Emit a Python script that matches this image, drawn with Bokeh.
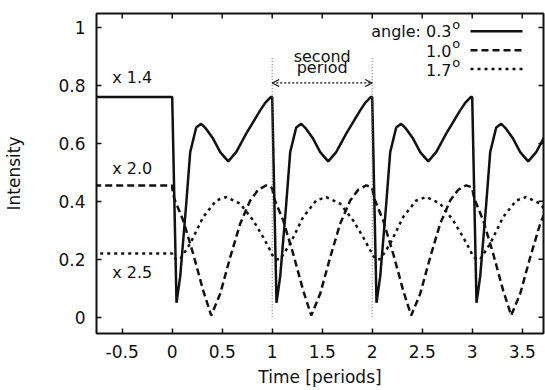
import numpy as np
from bokeh.plotting import figure
from bokeh.models import FixedTicker, Arrow, OpenHead
from bokeh.core.properties import value
from bokeh.embed import file_html
from bokeh.resources import INLINE

# ---------------- data ----------------
n_periods = 4
pre_x = [-1.0, 0.0]                 # before the periodic regime
pre_solid, pre_dashed, pre_dotted = 0.76, 0.455, 0.22

# one period (phase 0..1), repeated for each period
solid_phase = [0.00, 0.043, 0.08, 0.14, 0.18, 0.24, 0.29, 0.34, 0.41, 0.48, 0.56, 0.64, 0.74, 0.82, 0.88, 0.93, 0.985]
solid_val   = [0.76, 0.05, 0.14, 0.39, 0.57, 0.655, 0.668, 0.65, 0.616, 0.57, 0.538, 0.57, 0.634, 0.68, 0.714, 0.74, 0.76]

dashed_phase = [0.00, 0.02, 0.11, 0.21, 0.31, 0.39, 0.48, 0.58, 0.68, 0.78, 0.86, 0.94, 0.985]
dashed_val   = [0.445, 0.41, 0.334, 0.219, 0.092, 0.006, 0.081, 0.207, 0.323, 0.403, 0.44, 0.455, 0.45]

dotted_phase = [0.00, 0.04, 0.08, 0.18, 0.31, 0.44, 0.54, 0.68, 0.81, 0.91, 0.985]
dotted_val   = [0.215, 0.20, 0.20, 0.254, 0.346, 0.403, 0.415, 0.392, 0.334, 0.276, 0.228]

x_ticks = [-0.5, 0, 0.5, 1, 1.5, 2, 2.5, 3, 3.5]
x_tick_labels = ["-0.5", "0", "0.5", "1", "1.5", "2", "2.5", "3", "3.5"]
y_ticks = [0, 0.2, 0.4, 0.6, 0.8, 1]
y_tick_labels = ["0", "0.2", "0.4", "0.6", "0.8", "1"]

legend_labels = ["angle: 0.3", "1.0", "1.7"]
legend_dashes = ["solid", "7 4", "3 4"]
scale_labels = ["x 1.4", "x 2.0", "x 2.5"]
period_marks = [1, 2]
period_text = ["second", "period"]

# ---------------- build series ----------------
def build(level, phase, val):
    xs = list(pre_x)
    ys = [level, level]
    for k in range(n_periods):
        xs += [k + ph for ph in phase]
        ys += list(val)
    return xs, ys

sx, sy = build(pre_solid, solid_phase, solid_val)
dx, dy = build(pre_dashed, dashed_phase, dashed_val)
ox, oy = build(pre_dotted, dotted_phase, dotted_val)

FONT = value("DejaVu Sans")
INK = "#111111"

X0, X1 = -0.757, 3.713
Y0, Y1 = -0.0563, 1.0487
W, H = 545, 390
BL, BR, BT, BB = 96, 2, 13, 57

p = figure(width=W, height=H, x_range=(X0, X1), y_range=(Y0, Y1),
           output_backend="svg", toolbar_location=None,
           min_border_left=BL, min_border_right=BR, min_border_top=BT, min_border_bottom=BB)
p.xgrid.grid_line_color = None
p.ygrid.grid_line_color = None
p.outline_line_color = INK
p.outline_line_width = 2
p.background_fill_color = "white"
p.border_fill_color = "white"

xa = p.below[0]
ya = p.left[0]
for ax in (xa, ya):
    ax.axis_line_color = None
    ax.major_tick_in = 5
    ax.major_tick_out = 0
    ax.major_tick_line_width = 1.5
    ax.major_tick_line_color = INK
    ax.minor_tick_line_color = None
    ax.major_label_text_font = "DejaVu Sans"
    ax.major_label_text_font_size = "17px"
    ax.major_label_text_color = INK
    ax.axis_label_text_font = "DejaVu Sans"
    ax.axis_label_text_font_size = "17px"
    ax.axis_label_text_font_style = "normal"
    ax.axis_label_text_color = INK

xa.ticker = FixedTicker(ticks=x_ticks)
xa.major_label_overrides = dict(zip(x_ticks, x_tick_labels))
xa.major_label_standoff = 11
xa.axis_label = "Time [periods]"
xa.axis_label_standoff = 6

ya.ticker = FixedTicker(ticks=y_ticks)
ya.major_label_overrides = dict(zip(y_ticks, y_tick_labels))
ya.major_label_standoff = 11
ya.axis_label = "Intensity"
ya.axis_label_standoff = 31

# mirrored ticks on top and right (5 px long, inward)
fw = W - BL - BR
fh = H - BT - BB
tx = 5 * (X1 - X0) / fw
ty = 5 * (Y1 - Y0) / fh
p.segment(x0=x_ticks, y0=[Y1] * len(x_ticks), x1=x_ticks, y1=[Y1 - ty] * len(x_ticks),
          line_color=INK, line_width=1.5)
p.segment(x0=[X1] * len(y_ticks), y0=y_ticks, x1=[X1 - tx] * len(y_ticks), y1=y_ticks,
          line_color=INK, line_width=1.5)

# curves
p.line(sx, sy, line_color=INK, line_width=2.5)
p.line(dx, dy, line_color=INK, line_width=2.5, line_dash="7 4")
p.line(ox, oy, line_color=INK, line_width=2.5, line_dash="3 4")

# period markers
p.segment(x0=period_marks, y0=[0, 0], x1=period_marks, y1=[0.9, 0.9],
          line_color="#666666", line_width=1, line_dash="1 2")
p.add_layout(Arrow(start=OpenHead(size=7, line_width=1.2, line_color=INK),
                   end=OpenHead(size=7, line_width=1.2, line_color=INK),
                   x_start=period_marks[0], y_start=0.809, x_end=period_marks[1], y_end=0.809,
                   line_color=INK, line_width=1.3, line_dash="2 2"))

TS = 0.02   # text baseline correction (~6 px)
p.text(x=[1.5, 1.5], y=[0.881 + TS, 0.841 + TS], text=period_text, text_font=FONT,
       text_font_size="16px", text_align="center", text_baseline="alphabetic", text_color=INK)

# scale annotations
p.text(x=[-0.60, -0.60, -0.60], y=[0.806 + TS, 0.493 + TS, 0.133 + TS], text=scale_labels,
       text_font=FONT, text_font_size="16px", text_align="left", text_baseline="alphabetic",
       text_color=INK)

# legend (manual, with superscript degree "o")
leg_base = [0.965, 0.900, 0.835]
p.text(x=[2.793] * 3, y=[b + TS for b in leg_base], text=legend_labels, text_font=FONT,
       text_font_size="16px", text_align="right", text_baseline="alphabetic", text_color=INK)
p.text(x=[2.800] * 3, y=[b + TS + 0.025 for b in leg_base], text=["o"] * 3, text_font=FONT,
       text_font_size="13px", text_align="left", text_baseline="alphabetic", text_color=INK)
for b, dash in zip(leg_base, legend_dashes):
    p.line([2.983, 3.503], [b + 0.022, b + 0.022], line_color=INK, line_width=2.5, line_dash=dash)

open("out.html", "w").write(file_html(p, INLINE))
